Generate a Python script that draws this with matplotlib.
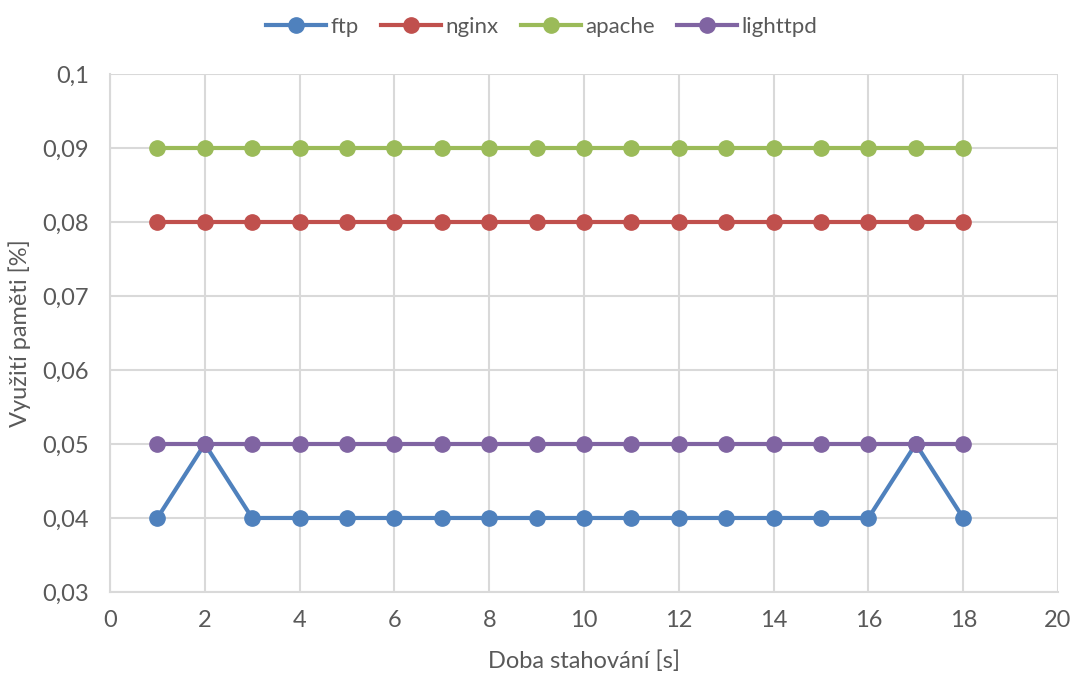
import numpy as np
import matplotlib.pyplot as plt
from matplotlib.ticker import FuncFormatter, MultipleLocator

plt.rcParams['font.family'] = ['Lato', 'DejaVu Sans']

# download time [s]
time_s = list(range(1, 19))

ftp = [0.04, 0.05, 0.04, 0.04, 0.04, 0.04, 0.04, 0.04, 0.04,
       0.04, 0.04, 0.04, 0.04, 0.04, 0.04, 0.04, 0.05, 0.04]
nginx = [0.08] * 18
apache = [0.09] * 18
lighttpd = [0.05] * 18

series = [
    ("ftp", ftp, "#4F81BD"),
    ("nginx", nginx, "#C0504D"),
    ("apache", apache, "#9BBB59"),
    ("lighttpd", lighttpd, "#8064A2"),
]

fig = plt.figure(figsize=(10.77, 6.75), dpi=100)
ax = fig.add_axes([0.1021, 0.123, 0.8803, 0.7674])

for name, values, color in series:
    ax.plot(time_s, values, color=color, linewidth=3, marker="o",
            markersize=11, label=name, zorder=3)

ax.set_xlim(0, 20)
ax.set_ylim(0.03, 0.1)
ax.xaxis.set_major_locator(MultipleLocator(2))
ax.yaxis.set_major_locator(MultipleLocator(0.01))

def comma(v, pos):
    s = f"{v:.2f}".rstrip("0").rstrip(".")
    return s.replace(".", ",")

ax.yaxis.set_major_formatter(FuncFormatter(comma))

ax.grid(True, color="#D9D9D9", linewidth=1.5, zorder=0)
for side in ["top", "right"]:
    ax.spines[side].set_visible(False)
for side in ["left", "bottom"]:
    ax.spines[side].set_color("#D9D9D9")
    ax.spines[side].set_linewidth(1.5)

ax.tick_params(length=0, labelsize=17, labelcolor="#595959")
ax.tick_params(axis="y", pad=15)
ax.tick_params(axis="x", pad=13)
ax.set_xlabel("Doba stahování [s]", fontsize=17, color="#595959", labelpad=14)
ax.set_ylabel("Využití paměti [%]", fontsize=17, color="#595959", labelpad=8)

fig.legend(loc="upper center", ncol=4, frameon=False, fontsize=16,
           bbox_to_anchor=(0.503, 1.005), handlelength=2.7, columnspacing=1.0,
           handletextpad=0.2, labelcolor="#595959")

fig.savefig("out.png", dpi=100)
